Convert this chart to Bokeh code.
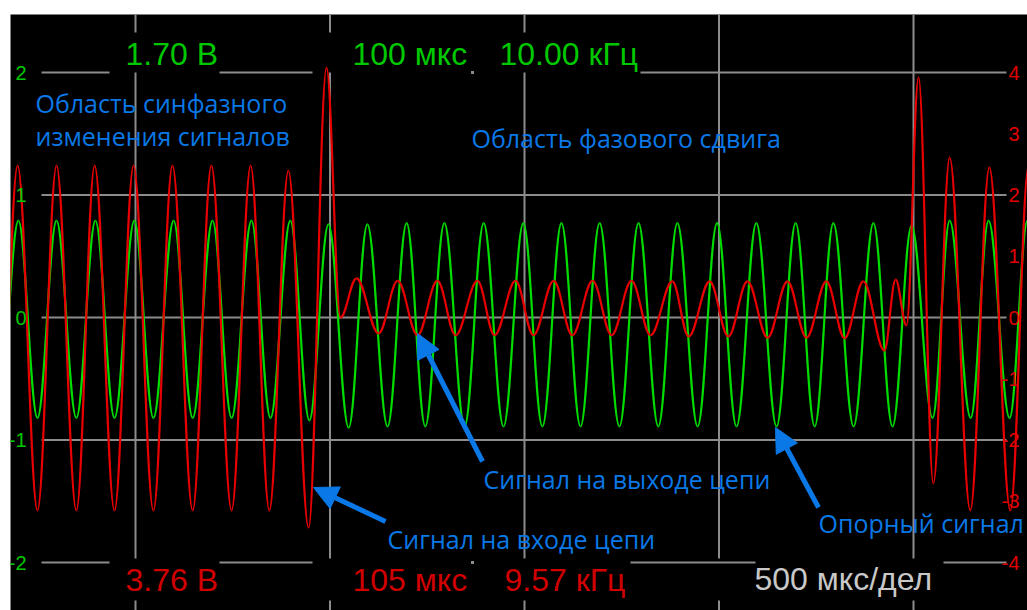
from bokeh.plotting import figure
from bokeh.models import Range1d, Arrow, NormalHead
from bokeh.core.properties import value
from bokeh.embed import file_html
from bokeh.resources import INLINE

# ---------------- data ----------------
# time in мкс (500 мкс per division), green channel in В (1 В/div), red channel in В (2 В/div)
green_trough_t = [148, 248, 348, 446, 546, 647, 747, 847, 947, 1048, 1148, 1245, 1346, 1446,
                  1546, 1644, 1744, 1844, 1945, 2045, 2148, 2246, 2346, 2446, 2549, 2647, 2747]
green_trough_v = [-0.82, -0.82, -0.82, -0.82, -0.82, -0.82, -0.82, -0.82, -0.84, -0.90, -0.89,
                  -0.89, -0.89, -0.89, -0.89, -0.89, -0.89, -0.89, -0.89, -0.89, -0.89, -0.89,
                  -0.89, -0.89, -0.82, -0.82, -0.82]
green_peak_t = [199, 297, 397, 497, 598, 698, 798, 898, 996, 1096, 1197, 1294, 1395, 1497,
                1595, 1693, 1793, 1893, 1995, 2096, 2197, 2294, 2397, 2495, 2593, 2693, 2793]
green_peak_v = [0.79, 0.79, 0.79, 0.79, 0.79, 0.79, 0.79, 0.79, 0.76, 0.76, 0.77, 0.77, 0.77,
                0.77, 0.77, 0.77, 0.77, 0.77, 0.77, 0.77, 0.77, 0.77, 0.77, 0.75, 0.79, 0.79, 0.79]

red_t = [148, 197, 248, 297, 348, 395, 446, 495, 546, 595, 647, 695, 747, 796, 844, 893, 945,
         991, 1027, 1068, 1125, 1174, 1225, 1276, 1323, 1379, 1423, 1477, 1523, 1575, 1623,
         1675, 1724, 1775, 1824, 1880, 1922, 1976, 2024, 2073, 2125, 2176, 2225, 2276, 2323,
         2371, 2425, 2454, 2482, 2513, 2551, 2593, 2646, 2695, 2749, 2796]
red_v = [-3.15, 2.48, -3.15, 2.48, -3.15, 2.48, -3.15, 2.48, -3.15, 2.48, -3.15, 2.48, -3.15,
         2.48, -3.15, 2.40, -3.43, 4.08, 0.00, 0.64, -0.26, 0.60, -0.29, 0.60, -0.29, 0.60,
         -0.29, 0.60, -0.29, 0.60, -0.29, 0.60, -0.29, 0.60, -0.29, 0.59, -0.31, 0.59, -0.31,
         0.59, -0.33, 0.59, -0.33, 0.59, -0.34, 0.59, -0.54, 0.62, -0.13, 3.92, -2.71, 2.61,
         -3.15, 2.45, -3.15, 2.48]

green_ticks = [2, 1, 0, -1, -2]
green_tick_labels = ["2", "1", "0", "-1", "-2"]
red_ticks = [4, 3, 2, 1, 0, -1, -2, -3, -4]
red_tick_labels = ["4", "3", "2", "1", "0", "-1", "-2", "-3", "-4"]
time_grid = [500, 1000, 1500, 2000, 2500]

top_readout = ["1.70 В", "100 мкс", "10.00 кГц"]
bottom_readout = ["3.76 В", "105 мкс", "9.57 кГц"]
timebase = "500 мкс/дел"

# ---------------- layout helpers (screen pixel -> data) ----------------
PX_PER_DIV = 194.5
def X(px):
    return 500 + (px - 135) * 500 / PX_PER_DIV
def Y(py):
    return (317 - py) / 122.5

LEFT, TOP = 10, 14
W, H = 1017, 596
p = figure(width=W, height=H, output_backend="svg", toolbar_location=None,
           x_range=Range1d(X(LEFT), X(LEFT + W)), y_range=Range1d(Y(TOP + H), Y(TOP)),
           x_axis_type=None, y_axis_type=None, min_border=0,
           background_fill_color="black", border_fill_color="black",
           outline_line_color=None, margin=(TOP, 0, 0, LEFT))
p.extra_y_ranges = {"red": Range1d(2 * Y(TOP + H), 2 * Y(TOP))}
p.xgrid.visible = False
p.ygrid.visible = False

GRID = "#8c8c8c"
# horizontal grid lines
hx0, hx1, hy = [], [], []
for v in green_ticks:
    if v in (1, 0, -1):
        segs = [(41, 1006)]
    elif v == 2:
        segs = [(41, 109), (219, 312), (640, 1006)]
    else:
        segs = [(41, 109), (219, 312), (630, 755), (943, 1006)]
    for a, b in segs:
        hx0.append(X(a)); hx1.append(X(b)); hy.append(v)
p.segment(x0=hx0, y0=hy, x1=hx1, y1=hy, line_color=GRID, line_width=2)
# vertical grid lines
vx, vy0, vy1 = [], [], []
for t in time_grid:
    if t <= 1500:
        segs = [(14, 32), (72, 558), (600, 610)]
    else:
        segs = [(14, 558), (600, 610)]
    for a, b in segs:
        vx.append(t); vy0.append(Y(a)); vy1.append(Y(b))
p.segment(x0=vx, y0=vy0, x1=vx, y1=vy1, line_color=GRID, line_width=2)
p.scatter(x=[X(472), X(472)], y=[2, -2], marker="square", size=3,
          fill_color=GRID, line_color=None)

# ---------------- waveforms as sinusoidal half-waves between extrema ----------------
K = 0.3634
def half_waves(ts, vs):
    x0, x1 = ts[:-1], ts[1:]
    y0, y1 = vs[:-1], vs[1:]
    cx0 = [a + K * (b - a) for a, b in zip(x0, x1)]
    cx1 = [b - K * (b - a) for a, b in zip(x0, x1)]
    return dict(x0=x0, y0=y0, x1=x1, y1=y1, cx0=cx0, cy0=y0, cx1=cx1, cy1=y1)

g_t, g_v = [], []
for a, b, c, d in zip(green_trough_t, green_trough_v, green_peak_t, green_peak_v):
    g_t += [a, c]; g_v += [b, d]

p.bezier(**half_waves(g_t, g_v), line_color="#00dc00", line_width=2.2)
p.bezier(**half_waves(red_t, red_v), line_color="#e80000", line_width=2.2, y_range_name="red")

# ---------------- axis tick labels ----------------
p.text(x=[X(26)] * len(green_ticks), y=green_ticks, text=green_tick_labels,
       text_font=value("Liberation Sans"), text_font_size="20px", text_color="#00c800",
       text_align="right", text_baseline="middle")
p.text(x=[X(1019)] * len(red_ticks), y=red_ticks, text=red_tick_labels,
       text_font=value("Liberation Sans"), text_font_size="20px", text_color="#e00000",
       text_align="right", text_baseline="middle", y_range_name="red")

# ---------------- readouts ----------------
p.text(x=[X(125), X(352), X(499)], y=[Y(53)] * 3, text=top_readout,
       text_font=value("Liberation Sans"), text_font_size="32px", text_color="#00c800",
       text_baseline="middle")
p.text(x=[X(125), X(352), X(504)], y=[Y(579)] * 3, text=bottom_readout,
       text_font=value("Liberation Sans"), text_font_size="32px", text_color="#d00000",
       text_baseline="middle")
p.text(x=[X(754)], y=[Y(578)], text=[timebase],
       text_font=value("Liberation Sans"), text_font_size="32px", text_color="#c8c8c8",
       text_baseline="middle")

# ---------------- annotations ----------------
BLUE = "#0a78e6"
notes = ["Область синфазного", "изменения сигналов", "Область фазового сдвига",
         "Сигнал на выходе цепи", "Сигнал на входе цепи", "Опорный сигнал"]
note_x = [X(35), X(35), X(471), X(483), X(387), X(818)]
note_y = [Y(102.5), Y(135.5), Y(137.5), Y(478), Y(538.5), Y(522.5)]
p.text(x=note_x, y=note_y, text=notes, text_font=value("Open Sans"), text_font_size="25px",
       text_color=BLUE, text_baseline="middle")

for (xs, ys, xe, ye) in [(385, 521, 313, 487), (482, 461, 417, 333), (818, 507, 775, 427)]:
    p.add_layout(Arrow(end=NormalHead(size=24, fill_color=BLUE, line_color=BLUE, line_width=1),
                       x_start=X(xs), y_start=Y(ys), x_end=X(xe), y_end=Y(ye),
                       line_color=BLUE, line_width=5))

open("out.html", "w").write(file_html(p, INLINE))
